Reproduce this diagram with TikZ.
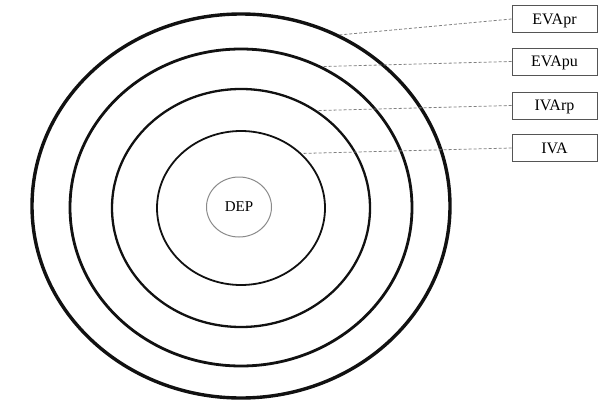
\documentclass[tikz,border=0pt]{standalone}
\usepackage{fontspec}
\setmainfont{Liberation Serif}
\usepackage{tikz}
\usetikzlibrary{shapes.geometric}
\definecolor{rgink}{HTML}{111111}
\definecolor{rgbox}{HTML}{555555}
\definecolor{rglead}{HTML}{808080}
\definecolor{rgcore}{HTML}{8A8A8A}

\begin{document}
\begin{tikzpicture}[
      x=1pt, y=-1pt,
      ring/.style={ellipse, draw=rgink, inner sep=0pt},
      tag/.style={draw=rgbox, line width=0.9pt, minimum width=85pt,
                  minimum height=27pt, inner sep=0pt, text depth=0pt,
                  font=\fontsize{16}{19}\selectfont},
      lead/.style={draw=rglead, dash pattern=on 3pt off 2pt, line width=0.8pt},
    ]
    \useasboundingbox (0,0) rectangle (601,404);

    % nested rings
    \node[ring, line width=3.4pt, minimum width=418pt, minimum height=384pt]
          (evapr) at (241,206) {};
    \node[ring, line width=2.8pt, minimum width=342pt, minimum height=317pt]
          (evapu) at (241,207.5) {};
    \node[ring, line width=2.3pt, minimum width=258pt, minimum height=238pt]
          (ivarp) at (241,208) {};
    \node[ring, line width=1.8pt, minimum width=168pt, minimum height=154pt]
          (iva) at (241,208) {};
    \node[ring, draw=rgcore, line width=1pt, minimum width=65pt,
          minimum height=60pt, text depth=0pt,
          font=\fontsize{15}{18}\selectfont]
          (dep) at (239,207) {DEP};

    % labels on the right
    \node[tag] (tpr) at (554.5,19)  {EVApr};
    \node[tag] (tpu) at (554.5,61.5)  {EVApu};
    \node[tag] (trp) at (554.5,105.5) {IVArp};
    \node[tag] (tva) at (554.5,148) {IVA};

    \draw[lead] (tpr.west) -- (evapr.60);
    \draw[lead] (tpu.west) -- (evapu.60);
    \draw[lead] (trp.west) -- (ivarp.52);
    \draw[lead] (tva.west) -- (iva.42);

  \end{tikzpicture}
\end{document}
